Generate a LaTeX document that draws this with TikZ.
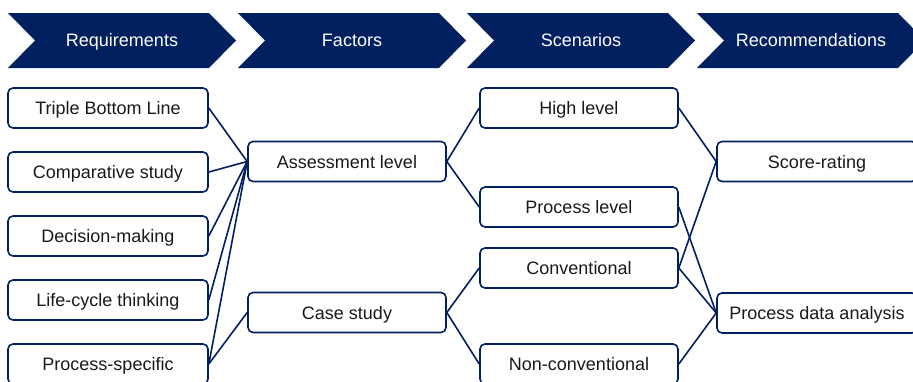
\documentclass[tikz,border=0pt]{standalone}
\usepackage{fontspec}
\setmainfont{Liberation Sans}
\definecolor{FlowNavy}{RGB}{0,32,96}

\begin{document}
\begin{tikzpicture}[x=1pt,y=-1pt,box/.style={draw=FlowNavy,line width=1.6pt,rounded corners=5pt,minimum width=200pt,minimum height=40pt,inner sep=0pt,text height=13pt,text depth=0pt,text=black!90,font=\fontsize{18}{20}\selectfont},link/.style={draw=FlowNavy,line width=1.6pt},head/.style={fill=FlowNavy},headtext/.style={text=white,text height=13pt,text depth=0pt,font=\fontsize{18}{20}\selectfont}]
\clip (0,0) rectangle (913,381);
\foreach \x/\1 in %
{8/Requirements,238/Factors,467/Scenarios,697/Recommendations} {
   \fill[head] (\x,13) -- ++(201,0) -- ++(27,27.5) -- ++(-27,27.5) -- ++(-201,0) -- ++(27,-27.5) -- cycle;
   \node[headtext](h\x) at (\x+114,40) {\1};
}
   \node[box](r1) at(108,108) {Triple Bottom Line};
   \node[box](r2) at(108,172) {Comparative study};
   \node[box](r3) at(108,236) {Decision-making};
   \node[box](r4) at(108,300) {Life-cycle thinking};
   \node[box](r5) at(108,364) {Process-specific};
   \node[box,minimum width=198pt](f1) at(347,161.5) {Assessment level};
   \node[box,minimum width=198pt](f2) at(347,312.5) {Case study};
   \node[box,minimum width=198pt](s1) at(579,108) {High level};
   \node[box,minimum width=198pt](s2) at(579,207) {Process level};
   \node[box,minimum width=198pt](s3) at(579,268) {Conventional};
   \node[box,minimum width=198pt](s4) at(579,364) {Non-conventional};
   \node[box](c1) at(817,161.5) {Score-rating};
   \node[box](c2) at(817,313) {Process data analysis};
\foreach \a/\b in %
{r1/f1,r2/f1,r3/f1,r4/f1,r5/f1,r5/f2,f1/s1,f1/s2,f2/s3,f2/s4,s1/c1,s3/c1,s2/c2,s3/c2,s4/c2} {
   \draw[link] (\a.east) -- (\b.west);
}
\end{tikzpicture}
\end{document}
